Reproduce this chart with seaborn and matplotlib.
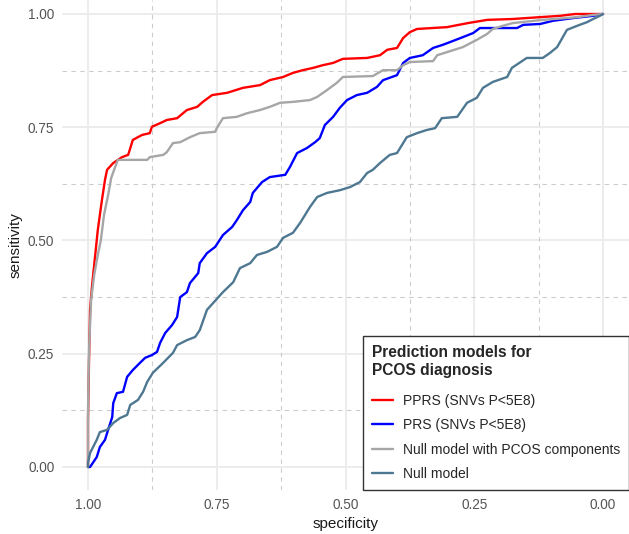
import numpy as np
import pandas as pd
import matplotlib
matplotlib.use("Agg")
import matplotlib.pyplot as plt
import seaborn as sns

# ROC curves (specificity, sensitivity)
pprs_spec = [1.000, 1.000, 0.998, 0.996, 0.992, 0.986, 0.981, 0.973, 0.967, 0.963,
             0.951, 0.934, 0.922, 0.913, 0.895, 0.880, 0.876, 0.860, 0.847, 0.827,
             0.808, 0.788, 0.777, 0.759, 0.730, 0.699, 0.666, 0.647, 0.621, 0.602,
             0.583, 0.563, 0.544, 0.524, 0.505, 0.458, 0.433, 0.419, 0.400, 0.388,
             0.375, 0.361, 0.303, 0.262, 0.225, 0.175, 0.083, 0.054, 0.000]
pprs_sens = [0.000, 0.104, 0.236, 0.347, 0.402, 0.468, 0.523, 0.589, 0.634, 0.656,
             0.671, 0.684, 0.689, 0.722, 0.733, 0.737, 0.751, 0.759, 0.766, 0.770,
             0.788, 0.795, 0.806, 0.821, 0.826, 0.837, 0.843, 0.854, 0.861, 0.870,
             0.876, 0.881, 0.887, 0.892, 0.901, 0.903, 0.909, 0.921, 0.925, 0.947,
             0.960, 0.967, 0.971, 0.980, 0.987, 0.989, 0.996, 1.000, 1.000]

prs_spec = [1.000, 0.996, 0.983, 0.977, 0.967, 0.961, 0.953, 0.951, 0.944, 0.932,
            0.924, 0.913, 0.899, 0.889, 0.876, 0.866, 0.860, 0.850, 0.837, 0.827,
            0.821, 0.808, 0.802, 0.786, 0.783, 0.769, 0.753, 0.738, 0.720, 0.711,
            0.699, 0.685, 0.680, 0.662, 0.647, 0.617, 0.608, 0.594, 0.575, 0.559,
            0.550, 0.540, 0.524, 0.511, 0.497, 0.478, 0.458, 0.439, 0.427, 0.400,
            0.388, 0.375, 0.350, 0.330, 0.311, 0.297, 0.272, 0.252, 0.239, 0.167,
            0.155, 0.122, 0.097, 0.058, 0.019, 0.000]
prs_sens = [0.000, 0.000, 0.022, 0.044, 0.060, 0.082, 0.110, 0.141, 0.163, 0.166,
            0.199, 0.214, 0.230, 0.241, 0.247, 0.254, 0.274, 0.296, 0.313, 0.331,
            0.375, 0.386, 0.406, 0.428, 0.450, 0.472, 0.486, 0.512, 0.530, 0.545,
            0.567, 0.585, 0.605, 0.629, 0.640, 0.645, 0.662, 0.693, 0.704, 0.717,
            0.726, 0.755, 0.773, 0.793, 0.810, 0.821, 0.826, 0.839, 0.854, 0.865,
            0.892, 0.903, 0.909, 0.925, 0.932, 0.938, 0.949, 0.958, 0.969, 0.969,
            0.976, 0.978, 0.985, 0.991, 0.996, 1.000]

nullpc_spec = [1.000, 1.000, 0.998, 0.994, 0.988, 0.981, 0.975, 0.969, 0.961, 0.955,
               0.948, 0.942, 0.885, 0.880, 0.854, 0.847, 0.835, 0.821, 0.802, 0.783,
               0.753, 0.750, 0.738, 0.711, 0.691, 0.666, 0.647, 0.627, 0.602, 0.569,
               0.555, 0.536, 0.517, 0.505, 0.447, 0.427, 0.400, 0.388, 0.375, 0.330,
               0.322, 0.297, 0.272, 0.245, 0.225, 0.214, 0.194, 0.175, 0.117, 0.050,
               0.019, 0.000]
nullpc_sens = [0.000, 0.126, 0.258, 0.369, 0.424, 0.468, 0.501, 0.556, 0.600, 0.638,
               0.660, 0.678, 0.678, 0.684, 0.689, 0.695, 0.715, 0.717, 0.728, 0.737,
               0.740, 0.748, 0.770, 0.773, 0.781, 0.788, 0.795, 0.804, 0.806, 0.810,
               0.817, 0.832, 0.848, 0.861, 0.863, 0.876, 0.876, 0.887, 0.894, 0.896,
               0.909, 0.918, 0.927, 0.943, 0.956, 0.967, 0.974, 0.980, 0.987, 0.993,
               0.998, 1.000]

null_spec = [1.000, 1.000, 0.996, 0.983, 0.977, 0.963, 0.951, 0.938, 0.924, 0.918,
             0.903, 0.893, 0.885, 0.874, 0.854, 0.835, 0.827, 0.808, 0.792, 0.783,
             0.769, 0.757, 0.738, 0.718, 0.705, 0.685, 0.672, 0.652, 0.633, 0.621,
             0.602, 0.588, 0.569, 0.555, 0.536, 0.511, 0.491, 0.472, 0.458, 0.447,
             0.433, 0.414, 0.400, 0.381, 0.361, 0.342, 0.326, 0.313, 0.283, 0.264,
             0.245, 0.233, 0.214, 0.186, 0.177, 0.148, 0.117, 0.103, 0.089, 0.078,
             0.070, 0.050, 0.031, 0.019, 0.006, 0.000]
null_sens = [0.000, 0.009, 0.031, 0.060, 0.077, 0.082, 0.097, 0.108, 0.115, 0.137,
             0.148, 0.166, 0.188, 0.208, 0.230, 0.252, 0.269, 0.280, 0.287, 0.302,
             0.347, 0.362, 0.386, 0.408, 0.439, 0.450, 0.468, 0.475, 0.486, 0.506,
             0.517, 0.539, 0.574, 0.596, 0.605, 0.611, 0.618, 0.629, 0.649, 0.656,
             0.671, 0.689, 0.693, 0.728, 0.737, 0.744, 0.748, 0.770, 0.773, 0.804,
             0.815, 0.837, 0.850, 0.861, 0.881, 0.903, 0.903, 0.914, 0.927, 0.949,
             0.965, 0.974, 0.982, 0.989, 0.996, 1.000]

labels = ["PPRS (SNVs P<5E8)", "PRS (SNVs P<5E8)",
          "Null model with PCOS components", "Null model"]
colors = ["#FF0000", "#0000FF", "#A6A6A6", "#4E7891"]
tick_vals = [0, 0.25, 0.5, 0.75, 1.0]
tick_labels = ["0.00", "0.25", "0.50", "0.75", "1.00"]
minor_vals = [0.125, 0.375, 0.625, 0.875]

curves = [(pprs_spec, pprs_sens), (prs_spec, prs_sens),
          (nullpc_spec, nullpc_sens), (null_spec, null_sens)]
df = pd.concat([pd.DataFrame({"specificity": sp, "sensitivity": se, "model": lab})
                for lab, (sp, se) in zip(labels, curves)], ignore_index=True)

sns.set_theme(style="white")
plt.rcParams["font.family"] = ["Liberation Sans", "DejaVu Sans"]

fig = plt.figure(figsize=(6.29, 5.34), dpi=100)
ax = fig.add_axes([62 / 629, 44 / 534, 567 / 629, 490 / 534])

# grid: solid major, dashed minor (ggplot minimal look)
for v in tick_vals:
    ax.axvline(v, color="#EBEBEB", lw=1.3, zorder=0)
    ax.axhline(v, color="#EBEBEB", lw=1.3, zorder=0)
for v in minor_vals:
    ax.axvline(v, color="#CCCCCC", lw=0.8, ls=(0, (4, 4)), zorder=0)
    ax.axhline(v, color="#CCCCCC", lw=0.8, ls=(0, (4, 4)), zorder=0)

sns.lineplot(data=df, x="specificity", y="sensitivity", hue="model",
             hue_order=labels, palette=dict(zip(labels, colors)),
             estimator=None, sort=False, lw=1.7, ax=ax)

ax.set_xlim(1.0505, -0.0505)
ax.set_ylim(-0.0508, 1.0309)
ax.set_xticks(tick_vals)
ax.set_xticklabels(tick_labels)
ax.set_yticks(tick_vals)
ax.set_yticklabels(tick_labels)
ax.tick_params(axis="both", length=0, labelsize=9.8, labelcolor="#555555", pad=5.5)
ax.set_xlabel("specificity", fontsize=11, color="#1A1A1A", labelpad=4)
ax.set_ylabel("sensitivity", fontsize=11, color="#1A1A1A", labelpad=4)
for s in ax.spines.values():
    s.set_visible(False)

handles, labs = ax.get_legend_handles_labels()
leg = ax.legend(handles, labs, title="Prediction models for\nPCOS diagnosis",
                loc="lower right", bbox_to_anchor=(1.0, 0.0), borderaxespad=0,
                fontsize=10, title_fontproperties={"weight": "bold", "size": 11.2},
                alignment="left", frameon=True, fancybox=False, framealpha=1,
                edgecolor="#333333", handlelength=1.5, handletextpad=0.7,
                borderpad=0.65, labelspacing=0.75)
leg.get_frame().set_linewidth(1.0)
leg._legend_box.sep = 11.5  # extra gap under the title

fig.savefig("out.png", dpi=100)
